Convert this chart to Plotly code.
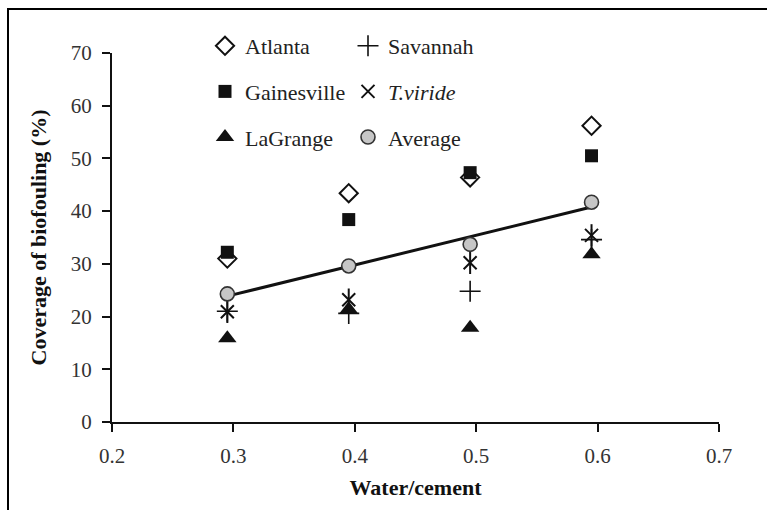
import numpy as np
import plotly.graph_objects as go

# Water/cement ratios of the four mixes
water_cement = [0.295, 0.395, 0.495, 0.595]

# Coverage of biofouling (%) per exposure site / organism
atlanta = [31.0, 43.4, 46.4, 56.2]
gainesville = [32.2, 38.4, 47.3, 50.5]
lagrange = [15.9, 21.4, 17.9, 31.8]
savannah = [21.0, 20.6, 24.8, 34.6]
t_viride = [20.9, 23.2, 30.2, 35.4]
average = [24.3, 29.6, 33.7, 41.7]

x_ticks = [0.2, 0.3, 0.4, 0.5, 0.6, 0.7]
y_ticks = [0, 10, 20, 30, 40, 50, 60, 70]

FONT = "Liberation Serif"
INK = "#111111"

fig = go.Figure()

series = [
    # name, values, symbol, size, fill, line colour, line width, legend
    ("Atlanta", atlanta, "diamond-open", 14, INK, INK, 2, "legend"),
    ("Gainesville", gainesville, "square", 13, INK, INK, 0, "legend"),
    ("LaGrange", lagrange, "triangle-up", 16, INK, INK, 0, "legend"),
    ("Savannah", savannah, "cross-thin-open", 15, INK, INK, 1.6, "legend2"),
    ("<i>T.viride</i>", t_viride, "x-thin-open", 13, INK, INK, 2, "legend2"),
    ("Average", average, "circle", 14, "#c6c6c6", "#333333", 1.6, "legend2"),
]

for i, (name, vals, sym, size, fill, lc, lw, leg) in enumerate(series):
    if name == "Average":
        # least-squares trend line through the average coverage, under its markers
        slope, intercept = np.polyfit(water_cement, vals, 1)
        x_fit = np.array([water_cement[0], water_cement[-1]])
        fig.add_trace(go.Scatter(
            x=x_fit, y=slope * x_fit + intercept, mode="lines",
            line=dict(color=INK, width=3), showlegend=False, hoverinfo="skip",
        ))
    fig.add_trace(go.Scatter(
        x=water_cement, y=vals, mode="markers", name=name,
        legend=leg, legendgroup=f"g{i}",
        marker=dict(symbol=sym, size=size, color=fill,
                    line=dict(color=lc, width=lw)),
        hoverinfo="skip",
    ))
    if sym == "x-thin-open":
        # vertical stroke completing the six-armed star
        fig.add_trace(go.Scatter(
            x=water_cement, y=vals, mode="markers", legendgroup=f"g{i}",
            showlegend=False, hoverinfo="skip",
            marker=dict(symbol="line-ns-open", size=16, color=INK,
                        line=dict(color=INK, width=2)),
        ))

W, H = 767, 510
L, R, T, B = 112, 48, 53, 88
pw, ph = W - L - R, H - T - B


def px_x(px):
    return (px - L) / pw


def px_y(py):
    return (H - B - py) / ph


legend_common = dict(
    font=dict(family=FONT, size=22, color="#222222"),
    bgcolor="rgba(0,0,0,0)", borderwidth=0,
    xanchor="left", yanchor="top", tracegroupgap=14,
    orientation="v",
)

fig.update_layout(
    width=W, height=H,
    margin=dict(l=L, r=R, t=T, b=B),
    paper_bgcolor="white", plot_bgcolor="white",
    font=dict(family=FONT, size=20, color="#222222"),
    legend=dict(x=px_x(205), y=px_y(25), **legend_common),
    legend2=dict(x=px_x(348), y=px_y(25), **legend_common),
    xaxis=dict(
        range=[0.2, 0.7], tickvals=x_ticks,
        ticktext=[f"{v:.1f}" for v in x_ticks],
        showgrid=False, zeroline=False,
        showline=True, linecolor=INK, linewidth=2,
        ticks="outside", ticklen=8, tickwidth=2, tickcolor=INK,
        ticklabelstandoff=6,
        tickfont=dict(family=FONT, size=21, color="#333333"),
        title=dict(text="<b>Water/cement</b>", standoff=12,
                   font=dict(family=FONT, size=22, color=INK)),
    ),
    yaxis=dict(
        range=[0, 70], tickvals=y_ticks,
        showgrid=False, zeroline=False,
        showline=True, linecolor=INK, linewidth=2,
        ticks="outside", ticklen=8, tickwidth=2, tickcolor=INK,
        ticklabelstandoff=6,
        tickfont=dict(family=FONT, size=21, color="#333333"),
        title=dict(text="<b>Coverage of biofouling (%)</b>", standoff=18,
                   font=dict(family=FONT, size=22, color=INK)),
    ),
    shapes=[dict(
        type="rect", xref="paper", yref="paper",
        x0=px_x(8), x1=px_x(790), y0=px_y(530), y1=px_y(9),
        line=dict(color="black", width=2), fillcolor="rgba(0,0,0,0)",
        layer="above",
    )],
)

fig.write_html("out.html")
